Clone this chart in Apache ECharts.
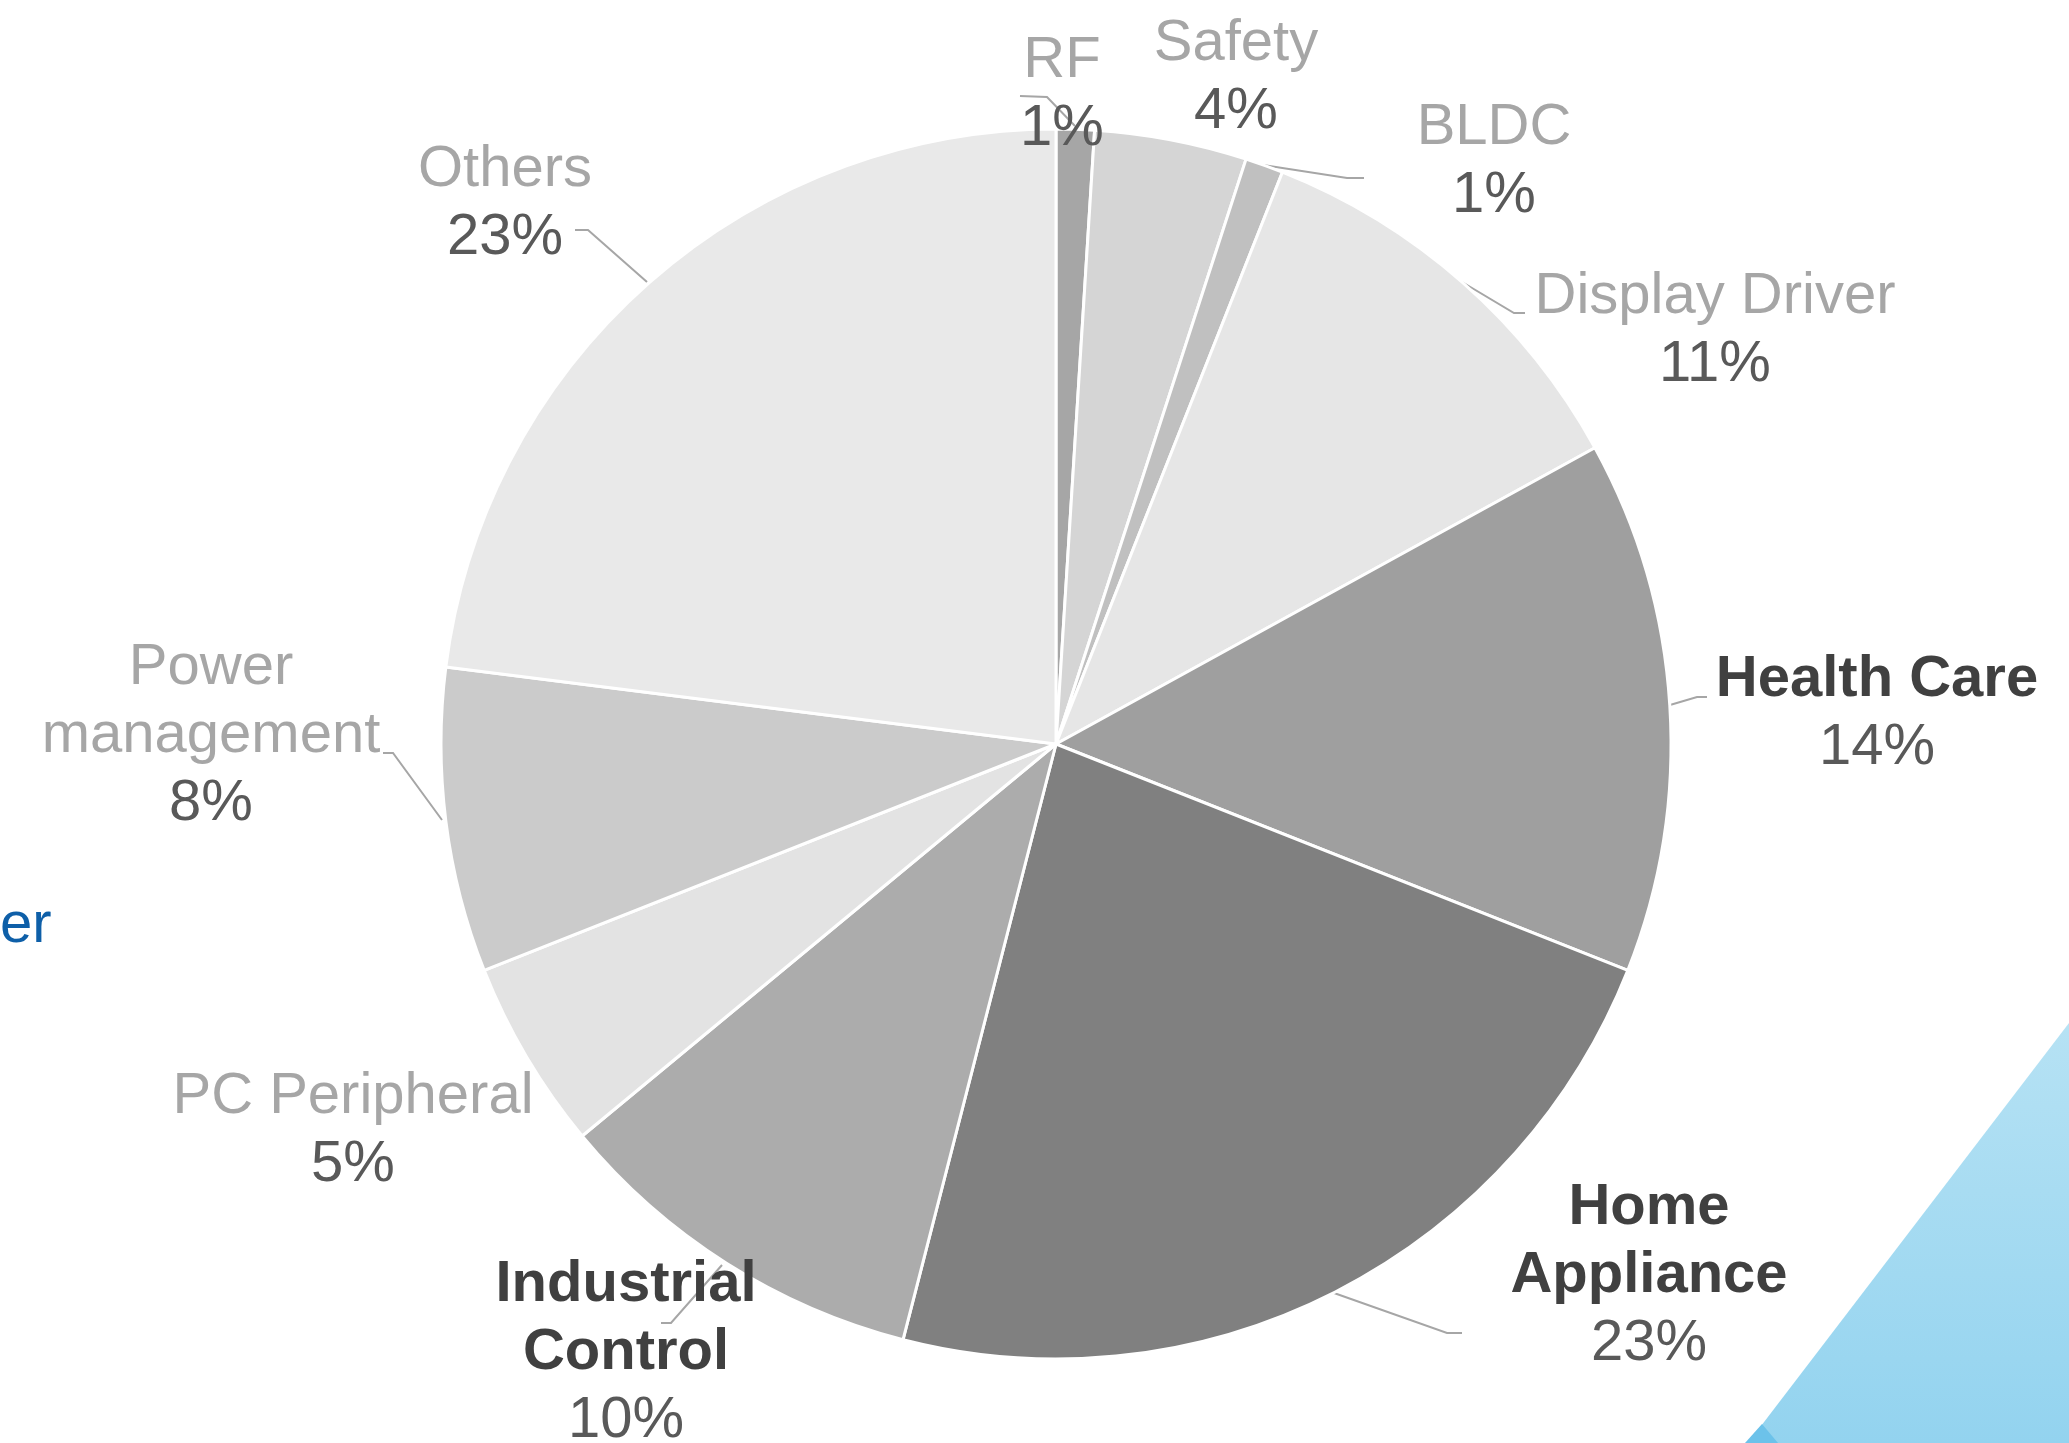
<!DOCTYPE html>
<html>
<head>
<meta charset="utf-8">
<style>
  html, body { margin: 0; padding: 0; background: #ffffff; }
  #chart { width: 2069px; height: 1443px; }
</style>
<script src="https://cdn.jsdelivr.net/npm/echarts@6/dist/echarts.min.js"></script>
</head>
<body>
<div id="chart"></div>
<script>
// ---- data ----
const categories = ['RF', 'Safety', 'BLDC', 'Display Driver', 'Health Care', 'Home Appliance',
                    'Industrial Control', 'PC Peripheral', 'Power management', 'Others'];
const labelNames = ['RF', 'Safety', 'BLDC', 'Display Driver', 'Health Care', 'Home\nAppliance',
                    'Industrial\nControl', 'PC Peripheral', 'Power\nmanagement', 'Others'];
const shares = [1, 4, 1, 11, 14, 23, 10, 5, 8, 23];

// ---- styles / layout (not data) ----
const sliceColors = ['#a6a6a6', '#d5d5d5', '#c0c0c0', '#e6e6e6', '#9f9f9f', '#808080',
                     '#acacac', '#e3e3e3', '#cbcbcb', '#e9e9e9'];
const boldLabel = [false, false, false, false, true, true, true, false, false, false];
const labelCenters = [[1062, 95], [1236, 78], [1494, 162], [1715, 331], [1877, 714],
                      [1649, 1276], [626, 1353], [353, 1131], [211, 736], [505, 204]];
const leaderPts = [
  [[1075, 126], [1047, 97], [1020, 96]],
  null,
  [[1263, 165], [1347, 178], [1364, 178]],
  [[1462, 282], [1514, 313], [1525, 313]],
  [[1670, 705], [1697, 697], [1707, 697]],
  [[1334, 1293], [1447, 1333], [1462, 1333]],
  [[722, 1265], [671, 1323], [661, 1323]],
  null,
  [[442, 820], [393, 753], [383, 753]],
  [[647, 282], [588, 230], [575, 230]]
];

const FONT = '"Liberation Sans", Arial, Helvetica, sans-serif';

const seriesData = categories.map((c, i) => ({
  name: c,
  value: shares[i],
  itemStyle: { color: sliceColors[i] },
  labelLine: { show: !!leaderPts[i] },
  label: {
    formatter: () => labelNames[i].split('\n').map(l => '{' + (boldLabel[i] ? 'b' : 'n') + '|' + l + '}').join('\n')
               + '\n{p|' + shares[i] + '%}'
  }
}));

const chart = echarts.init(document.getElementById('chart'), null, { renderer: 'canvas' });
chart.setOption({
  animation: false,
  backgroundColor: '#ffffff',
  graphic: [
    {
      type: 'polygon',
      shape: { points: [[2069, 1023], [1748, 1443], [2069, 1443]] },
      style: {
        fill: {
          type: 'linear', x: 0, y: 0, x2: 0, y2: 1,
          colorStops: [{ offset: 0, color: '#b6e2f4' }, { offset: 1, color: '#93d3ef' }]
        }
      },
      z: 0
    },
    {
      type: 'polygon',
      shape: { points: [[1762, 1424], [1745, 1443], [1778, 1443]] },
      style: { fill: '#6cc2ea' },
      z: 0
    },
    {
      type: 'text',
      left: 0,
      top: 897,
      style: { text: 'er', font: '58px ' + FONT, fill: '#0e5fa8' },
      z: 1
    }
  ],
  series: [{
    type: 'pie',
    center: [1056, 744],
    radius: 615,
    startAngle: 90,
    clockwise: true,
    avoidLabelOverlap: false,
    data: seriesData,
    itemStyle: { borderColor: '#ffffff', borderWidth: 3 },
    label: {
      show: true,
      position: 'outside',
      align: 'center',
      lineHeight: 68,
      fontFamily: FONT,
      rich: {
        n: { fontFamily: FONT, fontSize: 58, lineHeight: 68, color: '#a6a6a6', align: 'center' },
        b: { fontFamily: FONT, fontSize: 58, lineHeight: 68, color: '#404040', fontWeight: 'bold', align: 'center' },
        p: { fontFamily: FONT, fontSize: 58, lineHeight: 68, color: '#595959', align: 'center' }
      }
    },
    labelLine: {
      show: true,
      smooth: false,
      lineStyle: { color: '#a6a6a6', width: 2 }
    },
    labelLayout: function (params) {
      const i = params.dataIndex;
      const c = labelCenters[i];
      const out = {
        x: c[0],
        y: c[1],
        align: 'center',
        verticalAlign: 'middle',
        hideOverlap: false,
        moveOverlap: false
      };
      if (leaderPts[i]) out.labelLinePoints = leaderPts[i];
      return out;
    }
  }]
});
</script>
</body>
</html>
